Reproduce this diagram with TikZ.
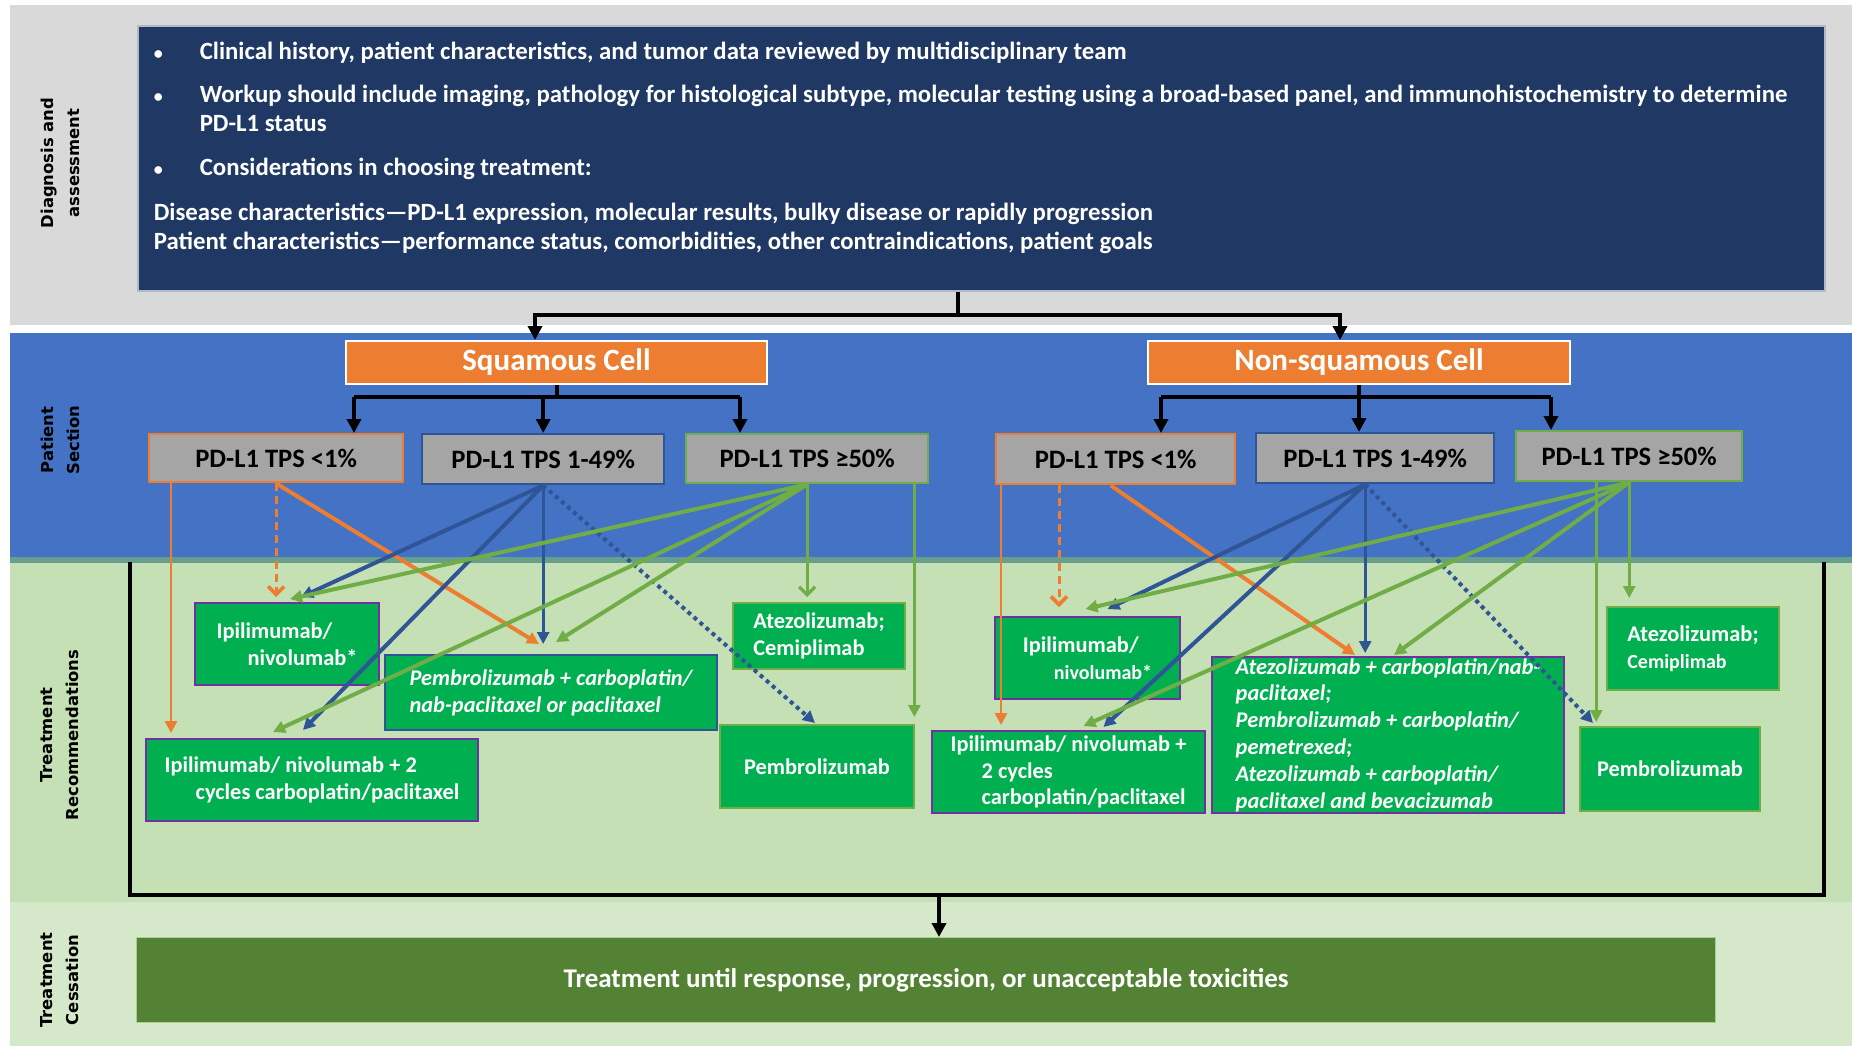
\documentclass[tikz,border=0pt]{standalone}
\usepackage{fontspec}
\setmainfont{Carlito}
\newfontfamily\sidefont{DejaVu Sans}
\usetikzlibrary{arrows.meta,calc}
\definecolor{bandgray}{RGB}{217,217,217}
\definecolor{navy}{RGB}{32,56,100}
\definecolor{bandblue}{RGB}{68,114,196}
\definecolor{bandteal}{RGB}{104,158,140}
\definecolor{bandgreen}{RGB}{197,224,180}
\definecolor{bandpale}{RGB}{214,232,202}
\definecolor{boxgreen}{RGB}{0,176,80}
\definecolor{darkgreen}{RGB}{84,130,53}
\definecolor{orng}{RGB}{237,125,49}
\definecolor{pdgray}{RGB}{165,165,165}
\definecolor{arrgreen}{RGB}{112,173,71}
\definecolor{arrblue}{RGB}{47,85,151}
\definecolor{purp}{RGB}{112,48,160}
\newcommand\bul{\makebox[23pt][l]{{\fontsize{9}{9}\selectfont\textbullet}}}
\begin{document}
\begin{tikzpicture}[x=0.5pt,y=-0.5pt,
 side/.style={font=\sidefont\bfseries\fontsize{8.2}{13}\selectfont, rotate=90, align=center, inner sep=0},
 head/.style={fill=orng, draw=white, line width=1pt, text=white, font=\bfseries\fontsize{15.5}{18}\selectfont, anchor=north west, inner sep=0},
 pd/.style={fill=pdgray, line width=1.2pt, font=\bfseries\fontsize{13.3}{16}\selectfont, anchor=north west, inner sep=0},
 tr/.style={fill=boxgreen, line width=1pt, text=white, font=\bfseries\fontsize{11.2}{13.4}\selectfont, anchor=north west, inner sep=0, align=left},
 trit/.style={tr, font=\bfseries\itshape\fontsize{11.2}{13.4}\selectfont},
 conn/.style={draw=black, line width=2pt, -{Triangle[length=7pt,width=7pt]}},
 blkline/.style={draw=black, line width=2pt},
 thk/.style={line width=2pt, -{Triangle[length=6pt,width=6pt]}},
 thn/.style={line width=1.4pt, -{Triangle[length=6pt,width=6pt]}},
 vthn/.style={line width=1.4pt, -{Straight Barb[length=4pt,width=8pt,line width=1.6pt]}},
 dashedarr/.style={line width=1.5pt, dash pattern=on 4pt off 2.5pt, -{Straight Barb[length=4pt,width=8pt,line width=1.8pt]}},
 dottedarr/.style={line width=2pt, dash pattern=on 2pt off 2pt, -{Triangle[length=6pt,width=6pt]}}
]
\useasboundingbox (0,0) rectangle (1852,1046);
% bands
\fill[bandgray] (10,5) rectangle (1852,325);
\fill[bandblue] (10,333) rectangle (1852,557);
\fill[bandteal] (10,557) rectangle (1852,563);
\fill[bandgreen] (10,563) rectangle (1852,902);
\fill[bandpale] (10,902) rectangle (1852,1046);
% side labels
\node[side] (L1) at (60,163) {Diagnosis and\\assessment};
\node[side] (L2) at (60,440) {Patient\\Section};
\node[side] (L3) at (60,735) {Treatment\\Recommendations};
\node[side] (L4) at (60,980) {Treatment\\Cessation};
% top box
\node[draw=white!65!navy, line width=0.8pt, fill=navy, text=white, anchor=north west, inner sep=0,
  minimum width=843.5pt, minimum height=132.5pt, font=\bfseries\fontsize{12.4}{14.2}\selectfont] (DX) at (137,25)
{\begin{minipage}[t][132.5pt][t]{843.5pt}\raggedright\leftskip=8pt
\vspace*{8pt}
\bul Clinical history, patient characteristics, and tumor data reviewed by multidisciplinary team\par\vspace{7.5pt}
\bul Workup should include imaging, pathology for histological subtype, molecular testing using a broad-based panel, and immunohistochemistry to determine\par
\hspace*{23pt}PD-L1 status\par\vspace{8pt}
\bul Considerations in choosing treatment:\par\vspace{8.5pt}
Disease characteristics—PD-L1 expression, molecular results, bulky disease or rapidly progression\par
Patient characteristics—performance status, comorbidities, other contraindications, patient goals
\end{minipage}};
% headers
\node[head, minimum width=210.5pt, minimum height=21.5pt] (SQ) at (345,340) {Squamous Cell};
\node[head, minimum width=211pt, minimum height=21.5pt] (NS) at (1147,340) {Non-squamous Cell};
% PD-L1 boxes
\node[pd, draw=orng, minimum width=127pt, minimum height=24pt] (A1) at (148,433) {PD-L1 TPS <1\%};
\node[pd, draw=arrblue, minimum width=121pt, minimum height=25pt] (A2) at (421,433) {PD-L1 TPS 1-49\%};
\node[pd, draw=arrgreen, minimum width=121pt, minimum height=24.5pt] (A3) at (685,433) {PD-L1 TPS ≥50\%};
\node[pd, draw=orng, minimum width=119.5pt, minimum height=25pt] (B1) at (995,433) {PD-L1 TPS <1\%};
\node[pd, draw=arrblue, minimum width=119pt, minimum height=25pt] (B2) at (1255,432) {PD-L1 TPS 1-49\%};
\node[pd, draw=arrgreen, minimum width=113pt, minimum height=25pt] (B3) at (1515,430) {PD-L1 TPS ≥50\%};
% treatment boxes
\node[tr, draw=purp, minimum width=92pt, minimum height=41pt] (T1) at (194,602) {Ipilimumab/\\\hspace*{15.5pt}nivolumab*};
\node[trit, draw=arrblue, minimum width=166pt, minimum height=37.5pt] (T2) at (384,654) {Pembrolizumab + carboplatin/\\nab-paclitaxel or paclitaxel};
\node[tr, draw=purp, minimum width=166pt, minimum height=41pt] (T3) at (145,738) {Ipilimumab/ nivolumab + 2\\\hspace*{15.5pt}cycles carboplatin/paclitaxel};
\node[tr, draw=arrgreen, minimum width=86pt, minimum height=33pt] (T4) at (732,602) {Atezolizumab;\\Cemiplimab};
\node[tr, draw=arrgreen, minimum width=97pt, minimum height=41.5pt] (T5) at (719,724) {Pembrolizumab};
\node[tr, draw=purp, minimum width=92.5pt, minimum height=41pt] (U1) at (994,616) {Ipilimumab/\\\hspace*{15.5pt}{\fontsize{10}{13.4}\selectfont nivolumab*}};
\node[tr, draw=purp, minimum width=136.5pt, minimum height=41pt] (U2) at (931,730) {Ipilimumab/ nivolumab +\\\hspace*{15.5pt}2 cycles\\\hspace*{15.5pt}carboplatin/paclitaxel};
\node[trit, draw=purp, minimum width=176pt, minimum height=78pt] (U3) at (1211,656) {Atezolizumab + carboplatin/nab-\\paclitaxel;\\Pembrolizumab + carboplatin/\\pemetrexed;\\Atezolizumab + carboplatin/\\paclitaxel and bevacizumab};
\node[tr, draw=arrgreen, minimum width=86pt, minimum height=41.5pt] (U4) at (1606,606) {Atezolizumab;\\{\fontsize{10}{13.4}\selectfont Cemiplimab}};
\node[tr, draw=arrgreen, minimum width=90pt, minimum height=42pt] (U5) at (1579,726) {Pembrolizumab};
% bottom box
\node[fill=darkgreen, draw=arrgreen!60!white, line width=0.6pt, anchor=north west, inner sep=0, minimum width=789.5pt,
  minimum height=42.5pt, text=white, font=\bfseries\fontsize{13.5}{15}\selectfont] (BOT) at (136,937)
  {Treatment until response, progression, or unacceptable toxicities};
% black connectors
\coordinate (tj) at (958,315);
\draw[blkline] (DX.south -| tj) -- (tj);
\draw[conn] (tj) -| ($(SQ.north west)+(190,0)$);
\draw[conn] (tj) -| ($(NS.north west)+(193,0)$);
\coordinate (sq1) at ($(A1.north west)+(206,-36)$);
\coordinate (sq3) at ($(A3.north west)+(55,-36)$);
\draw[blkline] (sq1) -- (sq3);
\draw[blkline] (SQ.south) -- (SQ.south |- sq1);
\draw[conn] (sq1) -- (sq1 |- A1.north);
\draw[conn] (sq3) -- (sq3 |- A3.north);
\draw[conn] (A2.north |- sq1) -- (A2.north);
\coordinate (ns1) at ($(B1.north west)+(166,-36)$);
\coordinate (ns3) at ($(B3.north west)+(36,-33)$);
\draw[blkline] (ns1) -- (ns3);
\draw[blkline] (NS.south) -- (NS.south |- ns1);
\draw[conn] (ns1) -- (ns1 |- B1.north);
\draw[conn] (ns3) -- (ns3 |- B3.north);
\draw[conn] (NS.south |- ns1) -- (NS.south |- B2.north);
% bracket
\coordinate (brL) at (130,562);
\coordinate (brR) at (1824,562);
\coordinate (brB) at (939,895);
\draw[blkline] (brL) |- (brR |- brB) -- (brR);
\draw[conn] (brB) -- (brB |- BOT.north);
% helper coordinates
\coordinate (a1v) at ($(A1.south west)+(23,0)$);
\coordinate (a3v) at ($(A3.south east)+(-15,0)$);
\coordinate (b1v) at ($(B1.south west)+(6,0)$);
\coordinate (b1d) at ($(B1.south west)+(64,0)$);
\coordinate (b2o) at ($(B2.south)+(-10,0)$);
\coordinate (b3v) at ($(B3.south)+(-33,0)$);
% squamous arrows
\draw[thn,orng] (a1v) -- ($(a1v |- T3.north)+(0,-5)$);
\draw[dashedarr,orng] (A1.south) -- ($(A1.south |- T1.north)+(0,-5)$);
\draw[thk,orng] (A1.south) -- ($(T2.north)+(-12,-10)$);
\draw[thk,arrblue] (A2.south) -- ($(T1.north)+(14,-5)$);
\draw[thk,arrblue] (A2.south) -- ($(T3.north)+(-9,-8)$);
\draw[thn,arrblue] (A2.south) -- ($(A2.south |- T2.north)+(0,-10)$);
\draw[dottedarr,arrblue] (A2.south) -- ($(T5.north)+(-2,-1)$);
\draw[thk,arrgreen] (A3.south) -- ($(T1.north)+(3,-3)$);
\draw[thk,arrgreen] (A3.south) -- ($(T3.north)+(-39,-6)$);
\draw[thk,arrgreen] (A3.south) -- ($(T2.north)+(5,-12)$);
\draw[vthn,arrgreen] (A3.south) -- ($(A3.south |- T4.north)+(0,-5)$);
\draw[thn,arrgreen] (a3v) -- ($(a3v |- T5.north)+(0,-7)$);
% non-squamous arrows
\draw[thn,orng] (b1v) -- ($(b1v |- U2.north)+(0,-5)$);
\draw[dashedarr,orng] (b1d) -- ($(b1d |- U1.north)+(0,-9)$);
\draw[thk,orng] ($(B1.south)+(-5,0)$) -- ($(U3.north)+(-33,-1)$);
\draw[thk,arrblue] (b2o) -- ($(U1.north)+(20,-7)$);
\draw[thk,arrblue] (b2o) -- ($(U2.north)+(35,-3)$);
\draw[thn,arrblue] (b2o) -- ($(b2o |- U3.north)+(0,-3)$);
\draw[dottedarr,arrblue] (b2o) -- ($(U5.north west)+(14,-3)$);
\draw[thk,arrgreen] (B3.south) -- ($(U1.north)+(-2,-7)$);
\draw[thk,arrgreen] (B3.south) -- ($(U2.north)+(15,-4)$);
\draw[thk,arrgreen] (B3.south) -- ($(U3.north)+(6,-1)$);
\draw[thn,arrgreen] (B3.south) -- ($(B3.south |- U4.north)+(0,-8)$);
\draw[thn,arrgreen] (b3v) -- ($(b3v |- U5.north)+(0,-4)$);
\end{tikzpicture}
\end{document}
